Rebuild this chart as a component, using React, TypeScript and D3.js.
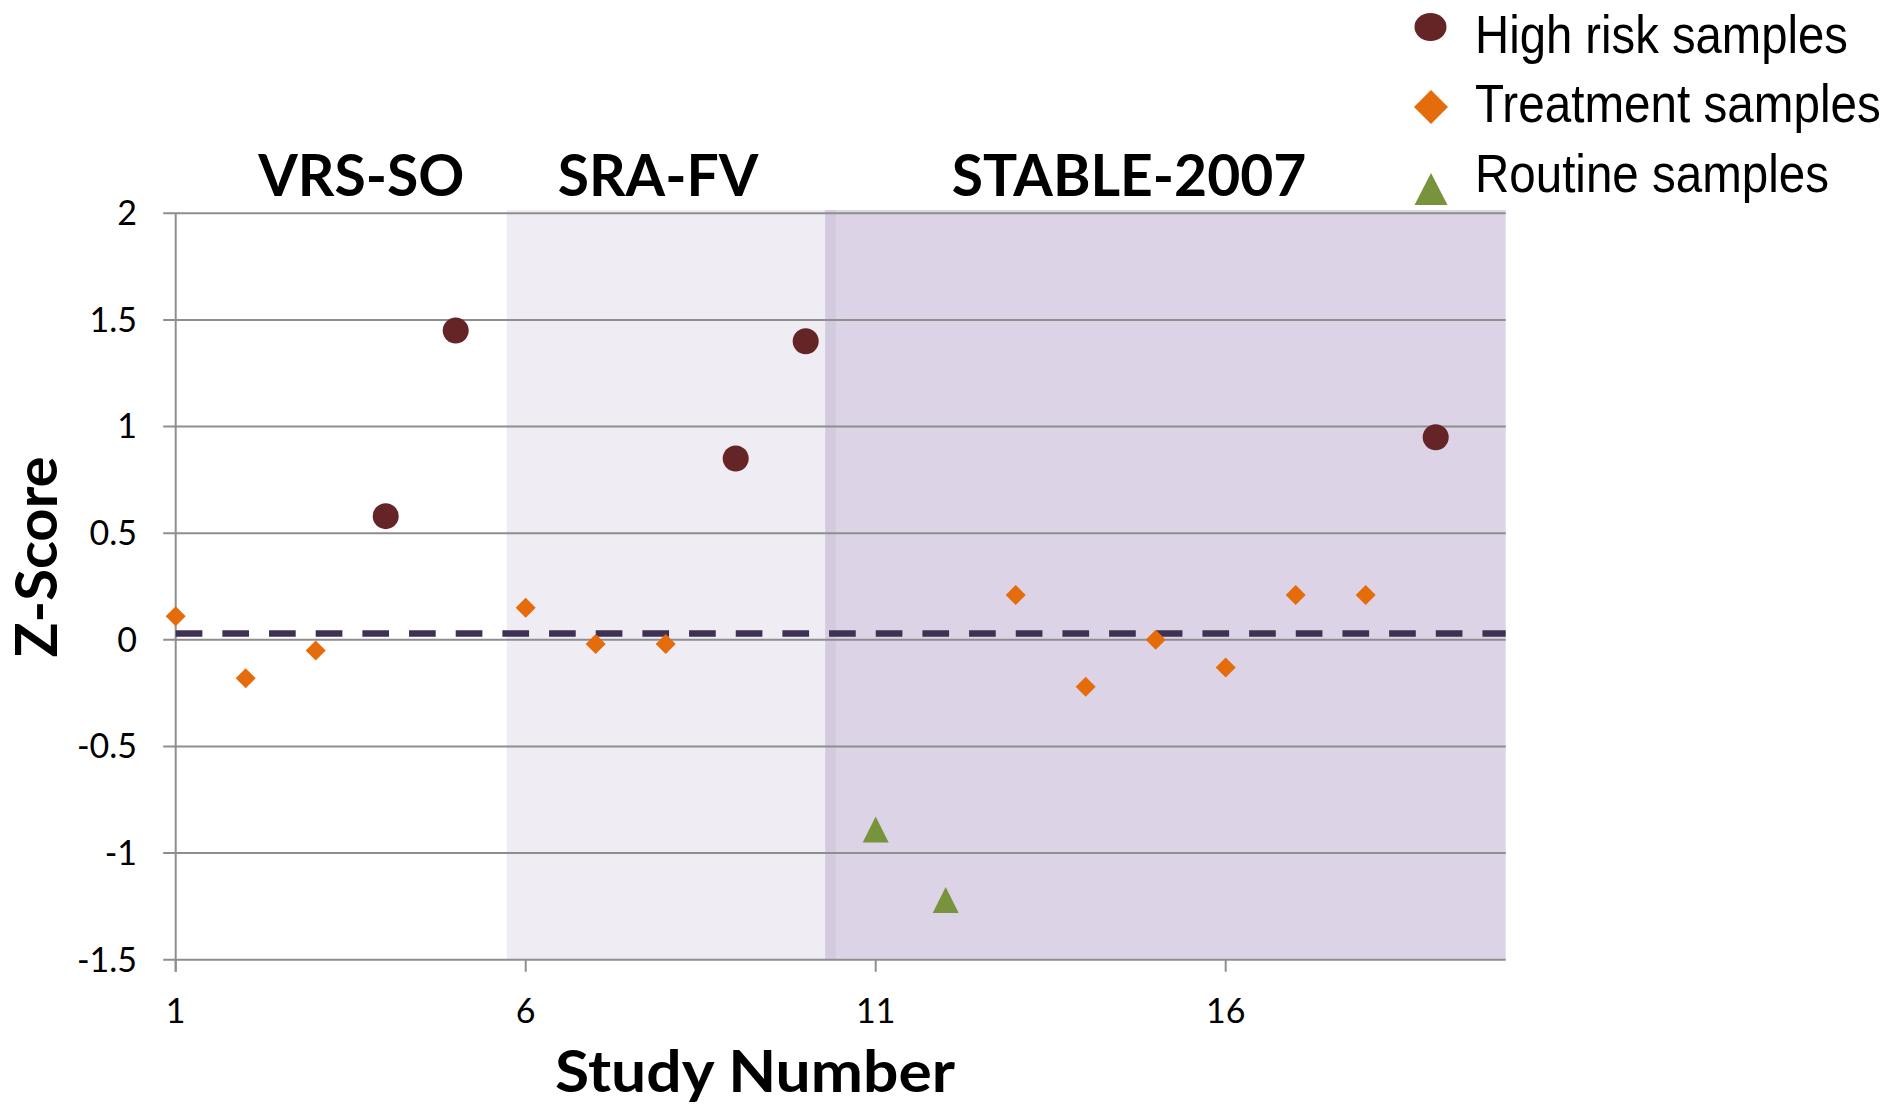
import React, { useLayoutEffect, useRef } from "react";
import * as d3 from "d3";

// ---------- data ----------
const highRiskX = [4, 5, 9, 10, 19];
const highRiskY = [0.58, 1.45, 0.85, 1.4, 0.95];

const treatmentX = [1, 2, 3, 6, 7, 8, 13, 14, 15, 16, 17, 18];
const treatmentY = [0.11, -0.18, -0.05, 0.15, -0.02, -0.02, 0.21, -0.22, 0, -0.13, 0.21, 0.21];

const routineX = [11, 12];
const routineY = [-0.89, -1.22];

const referenceLevel = 0.03;

const yTicks = [2, 1.5, 1, 0.5, 0, -0.5, -1, -1.5];
const xTicks = [1, 6, 11, 16];

const groupNames = ["VRS-SO", "SRA-FV", "STABLE-2007"];
const groupLabelX = [3.65, 7.89, 14.62];
const shadeStarts = [5.73, 10.28, 10.28];
const shadeEnds = [10.28, 20, 10.43];

const legendLabels = ["High risk samples", "Treatment samples", "Routine samples"];

// ---------- layout ----------
const W = 1888;
const H = 1107;
const left = 175.7;
const right = 1505.7;
const top = 213.3;
const bottom = 959.7;

const x = d3.scaleLinear().domain([1, 20]).range([left, right]);
const y = d3.scaleLinear().domain([2, -1.5]).range([top, bottom]);

const shadeColors = ["#EFECF4", "#DCD4E6", "#D3CAE0"];
const gridColor = "#8E8E8E";
const circleColor = "#652426";
const diamondColor = "#E46C0A";
const triangleColor = "#77933C";
const dashColor = "#3F3151";

const tickFont = "Lato, 'Open Sans', sans-serif";
const legendFont = "'Liberation Sans Narrow', 'Arial Narrow', 'Liberation Sans', Arial, sans-serif";

const legendTextX = 1475;
const legendBaselines = [53, 122, 192];
const legendWidths = [373, 406, 354];

const diamond = (cx: number, cy: number, r: number) =>
  `M${cx},${cy - r}L${cx + r},${cy}L${cx},${cy + r}L${cx - r},${cy}Z`;
const triangle = (cx: number, cy: number, w: number, h: number) =>
  `M${cx},${cy - h / 2}L${cx + w / 2},${cy + h / 2}L${cx - w / 2},${cy + h / 2}Z`;

export default function App() {
  const shadeTop = y(2.015);
  const legendRefs = useRef<(SVGTextElement | null)[]>([]);
  const titleRef = useRef<SVGTextElement | null>(null);

  useLayoutEffect(() => {
    legendRefs.current.forEach((el, i) => {
      if (!el) return;
      const natural = el.getComputedTextLength();
      if (natural > 0) {
        const s = legendWidths[i] / natural;
        el.setAttribute(
          "transform",
          `translate(${legendTextX},${legendBaselines[i]}) scale(${s},1)`
        );
      }
    });
    const t = titleRef.current;
    if (t) {
      const natural = t.getComputedTextLength();
      if (natural > 0) {
        const s = 400 / natural;
        t.setAttribute("transform", `translate(755,1092) scale(${s},1)`);
      }
    }
  }, []);

  return (
    <svg
      width={W}
      height={H}
      style={{ position: "absolute", left: 0, top: 0, display: "block", background: "#fff" }}
    >
      {/* shaded study regions */}
      {shadeStarts.map((s, i) => (
        <rect
          key={"shade" + i}
          x={x(s)}
          y={shadeTop}
          width={x(shadeEnds[i]) - x(s)}
          height={y(-1.5) - shadeTop}
          fill={shadeColors[i]}
        />
      ))}

      {/* gridlines */}
      {yTicks.map((t) => (
        <line
          key={"g" + t}
          x1={left - 12.5}
          x2={right}
          y1={y(t)}
          y2={y(t)}
          stroke={gridColor}
          strokeWidth={2}
        />
      ))}

      {/* y axis */}
      <line x1={left} x2={left} y1={top} y2={bottom + 12} stroke={gridColor} strokeWidth={2} />
      {xTicks.map((t) => (
        <line key={"xt" + t} x1={x(t)} x2={x(t)} y1={bottom} y2={bottom + 12} stroke={gridColor} strokeWidth={2} />
      ))}

      {/* y tick labels */}
      {yTicks.map((t) => (
        <text
          key={"yl" + t}
          x={137}
          y={y(t)}
          dy="0.35em"
          textAnchor="end"
          fontFamily={tickFont}
          fontSize={34}
          fill="#000"
        >
          {String(t)}
        </text>
      ))}

      {/* x tick labels */}
      {xTicks.map((t) => (
        <text
          key={"xl" + t}
          x={x(t)}
          y={1023}
          textAnchor="middle"
          fontFamily={tickFont}
          fontSize={34}
          fill="#000"
        >
          {String(t)}
        </text>
      ))}

      {/* reference dashed line */}
      <line
        x1={left}
        x2={right}
        y1={y(referenceLevel)}
        y2={y(referenceLevel)}
        stroke={dashColor}
        strokeWidth={6.5}
        strokeDasharray="26.67,20"
      />

      {/* treatment diamonds */}
      {treatmentX.map((v, i) => (
        <path key={"d" + i} d={diamond(x(v), y(treatmentY[i]), 10)} fill={diamondColor} />
      ))}

      {/* high risk circles */}
      {highRiskX.map((v, i) => (
        <circle key={"c" + i} cx={x(v)} cy={y(highRiskY[i])} r={13} fill={circleColor} />
      ))}

      {/* routine triangles */}
      {routineX.map((v, i) => (
        <path key={"t" + i} d={triangle(x(v), y(routineY[i]), 26, 26)} fill={triangleColor} />
      ))}

      {/* group labels */}
      {groupNames.map((g, i) => (
        <text
          key={"grp" + i}
          x={x(groupLabelX[i])}
          y={196}
          textAnchor="middle"
          fontFamily={tickFont}
          fontWeight="bold"
          fontSize={57}
          fill="#000"
        >
          {g}
        </text>
      ))}

      {/* axis titles */}
      <text
        transform={`translate(57,557) rotate(-90)`}
        textAnchor="middle"
        fontFamily={tickFont}
        fontWeight="bold"
        fontSize={58}
        fill="#000"
      >
        Z-Score
      </text>
      <text
        ref={titleRef}
        transform="translate(755,1092)"
        textAnchor="middle"
        fontFamily={tickFont}
        fontWeight="bold"
        fontSize={57}
        fill="#000"
      >
        Study Number
      </text>

      {/* legend */}
      <g>
        <ellipse cx={1430.5} cy={27} rx={16} ry={14} fill={circleColor} />
        <path d={diamond(1431, 107, 17)} fill={diamondColor} />
        <path d={triangle(1431, 189, 33, 32)} fill={triangleColor} />
        {legendLabels.map((l, i) => (
          <text
            key={"lg" + i}
            ref={(el) => {
              legendRefs.current[i] = el;
            }}
            transform={`translate(${legendTextX},${legendBaselines[i]})`}
            fontFamily={legendFont}
            fontSize={53}
            fill="#000"
          >
            {l}
          </text>
        ))}
      </g>
    </svg>
  );
}
